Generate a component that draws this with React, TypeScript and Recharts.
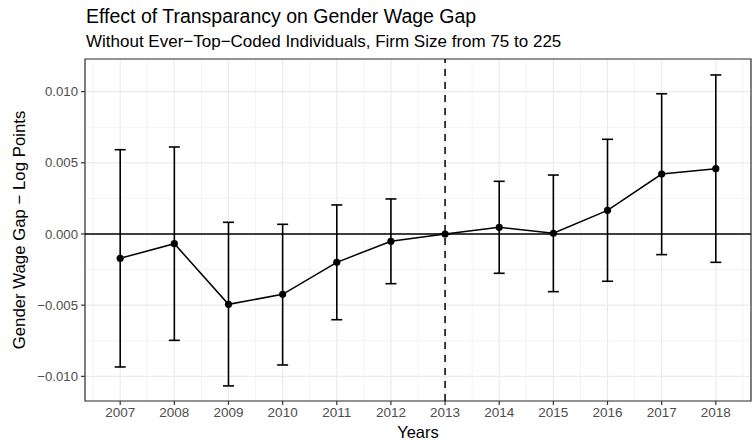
import React from 'react';
import {
  ComposedChart,
  Line,
  ErrorBar,
  XAxis,
  YAxis,
  CartesianGrid,
  ReferenceLine,
  ReferenceArea,
} from 'recharts';

const years = [2007, 2008, 2009, 2010, 2011, 2012, 2013, 2014, 2015, 2016, 2017, 2018];
const estimates = [-0.00171, -0.00068, -0.00494, -0.00424, -0.00199, -0.00051, 0, 0.00047, 0.00005, 0.00166, 0.00421, 0.00459];
const upper = [0.00592, 0.00611, 0.00082, 0.00068, 0.00204, 0.00246, 0, 0.0037, 0.00414, 0.00665, 0.00985, 0.01117];
const lower = [-0.00934, -0.00747, -0.01067, -0.0092, -0.00602, -0.00349, 0, -0.00276, -0.00405, -0.00332, -0.00145, -0.00199];

const yTicks = [-0.01, -0.005, 0, 0.005, 0.01];
const yMinor = [-0.0075, -0.0025, 0.0025, 0.0075];
const xMinor = [2006.5, 2007.5, 2008.5, 2009.5, 2010.5, 2011.5, 2012.5, 2013.5, 2014.5, 2015.5, 2016.5, 2017.5, 2018.5];
const treatmentYear = 2013;

const xDomain: [number, number] = [2006.35, 2018.65];
const yDomain: [number, number] = [-0.01173, 0.01229];

const data = years.map((year, i) => ({
  year,
  gap: estimates[i],
  err: [estimates[i] - lower[i], upper[i] - estimates[i]],
}));

const font = '"Liberation Sans", Arial, Helvetica, sans-serif';

const fmt = (v: number) => {
  const s = Math.abs(v).toFixed(3);
  return v < 0 ? '\u2212' + s : s;
};

const App = () => {
  return (
    <div style={{ position: 'absolute', left: 0, top: 0, width: 755, height: 446, background: '#fff', fontFamily: font }}>
      <ComposedChart
        width={755}
        height={446}
        data={data}
        margin={{ top: 59, right: 4, bottom: 0, left: 0 }}
      >
        <CartesianGrid
          stroke="#EBEBEB"
          strokeWidth={0.6}
          strokeDasharray=""
          horizontalValues={yMinor}
          verticalValues={xMinor}
        />
        <CartesianGrid stroke="#EBEBEB" strokeWidth={1.2} strokeDasharray="" />
        <XAxis
          dataKey="year"
          type="number"
          domain={xDomain}
          ticks={years}
          allowDataOverflow
          height={45}
          axisLine={false}
          tickSize={4}
          tickMargin={2}
          tickLine={{ stroke: '#333333', strokeWidth: 1.2 }}
          tick={{ fill: '#4D4D4D', fontSize: 13.5, fontFamily: font }}
        />
        <YAxis
          type="number"
          domain={yDomain}
          ticks={yTicks}
          allowDataOverflow
          width={85}
          axisLine={false}
          tickSize={4}
          tickMargin={3}
          tickFormatter={fmt}
          tickLine={{ stroke: '#333333', strokeWidth: 1.2 }}
          tick={{ fill: '#4D4D4D', fontSize: 13.2, fontFamily: font }}
        />
        <ReferenceLine y={0} stroke="#000" strokeWidth={1.4} />
        <ReferenceLine x={treatmentYear} stroke="#000" strokeWidth={1.5} strokeDasharray="7 6" />
        <Line
          dataKey="gap"
          type="linear"
          stroke="#000"
          strokeWidth={1.5}
          dot={{ r: 3.6, fill: '#000', stroke: 'none' }}
          activeDot={false}
          isAnimationActive={false}
        >
          <ErrorBar dataKey="err" direction="y" width={5.5} stroke="#000" strokeWidth={1.6} isAnimationActive={false} />
        </Line>
        <ReferenceArea
          x1={xDomain[0]}
          x2={xDomain[1]}
          y1={yDomain[0]}
          y2={yDomain[1]}
          fill="none"
          fillOpacity={0}
          stroke="#333333"
          strokeWidth={1.2}
          ifOverflow="visible"
        />
      </ComposedChart>
      <svg width={755} height={446} style={{ position: 'absolute', left: 0, top: 0, pointerEvents: 'none' }}>
        <text x={86} y={23} fontSize={19.5} fill="#000" fontFamily={font}>
          Effect of Transparancy on Gender Wage Gap
        </text>
        <text x={86} y={47} fontSize={17} fill="#000" fontFamily={font}>
          Without Ever−Top−Coded Individuals, Firm Size from 75 to 225
        </text>
        <text x={418} y={438} fontSize={16.5} fill="#000" textAnchor="middle" fontFamily={font}>
          Years
        </text>
        <text
          x={0}
          y={0}
          fontSize={16.8}
          fill="#000"
          textAnchor="middle"
          fontFamily={font}
          transform="translate(25,230) rotate(-90)"
        >
          Gender Wage Gap − Log Points
        </text>
      </svg>
    </div>
  );
};

export default App;
